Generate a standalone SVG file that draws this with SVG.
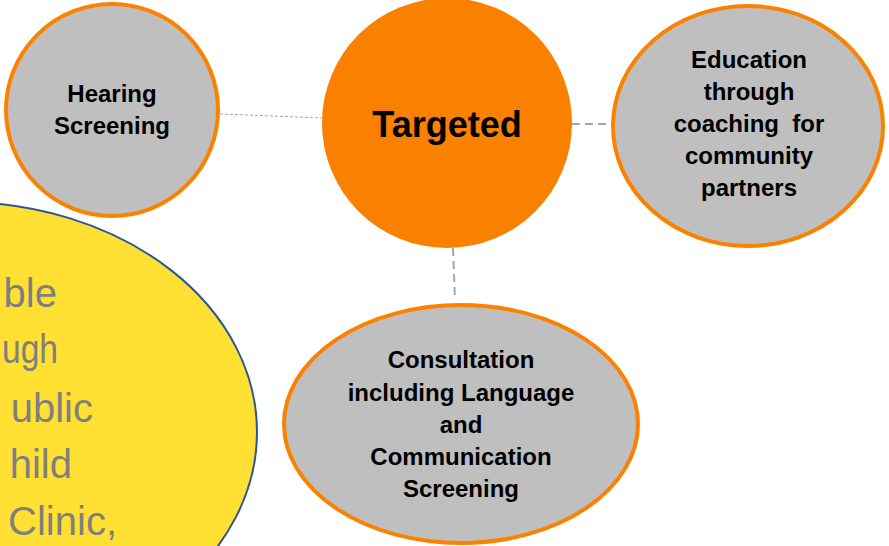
<svg xmlns="http://www.w3.org/2000/svg" width="889" height="546" viewBox="0 0 889 546">
<style>
.node{fill:#BFBFBF;stroke:#FA8200;stroke-width:4}
.lbl{font-family:"Liberation Sans",Arial,sans-serif;font-weight:bold;font-size:24px;fill:#000;text-anchor:middle}
.ytxt{font-family:"Liberation Sans",Arial,sans-serif;font-size:40px;fill:#7F7F7F;text-anchor:end}
.conn{fill:none;stroke:#A6A6A6}
</style>
<rect width="889" height="546" fill="#FFFFFF"/>
<g id="yellow">
<ellipse cx="-40" cy="432" rx="297" ry="230" fill="#FFE033" stroke="#2F5597" stroke-width="2"/>
<text class="ytxt" x="57" y="307">ble</text>
<text class="ytxt" x="2" y="363" style="text-anchor:start" textLength="56" lengthAdjust="spacingAndGlyphs">ugh</text>
<text class="ytxt" x="93" y="422">ublic</text>
<text class="ytxt" x="72" y="478">hild</text>
<text class="ytxt" x="117" y="535">Clinic,</text>
</g>
<g id="connectors">
<line class="conn" x1="220" y1="114" x2="322" y2="118" stroke-width="1" stroke-dasharray="3 2"/>
<line class="conn" x1="572" y1="124" x2="612" y2="124" stroke-width="2" stroke-dasharray="8 5"/>
<line class="conn" x1="453" y1="248" x2="455" y2="300" stroke-width="2" stroke-dasharray="8 5"/>
</g>
<g id="hearing">
<circle class="node" cx="112" cy="110" r="106"/>
<text class="lbl" x="112" y="102">Hearing</text>
<text class="lbl" x="112" y="134">Screening</text>
</g>
<g id="targeted">
<circle cx="447" cy="123" r="125" fill="#FA8000"/>
<text class="lbl" x="447" y="137" style="font-size:36px">Targeted</text>
</g>
<g id="education">
<ellipse class="node" cx="748" cy="126" rx="135" ry="120"/>
<text class="lbl" x="749" y="68">Education</text>
<text class="lbl" x="749" y="100">through</text>
<text class="lbl" x="749" y="132" xml:space="preserve" style="white-space:pre">coaching  for</text>
<text class="lbl" x="749" y="164">community</text>
<text class="lbl" x="749" y="196">partners</text>
</g>
<g id="consultation">
<ellipse class="node" cx="461" cy="424" rx="177" ry="119"/>
<text class="lbl" x="461" y="368">Consultation</text>
<text class="lbl" x="461" y="401">including Language</text>
<text class="lbl" x="461" y="433">and</text>
<text class="lbl" x="461" y="465">Communication</text>
<text class="lbl" x="461" y="497">Screening</text>
</g>
</svg>
